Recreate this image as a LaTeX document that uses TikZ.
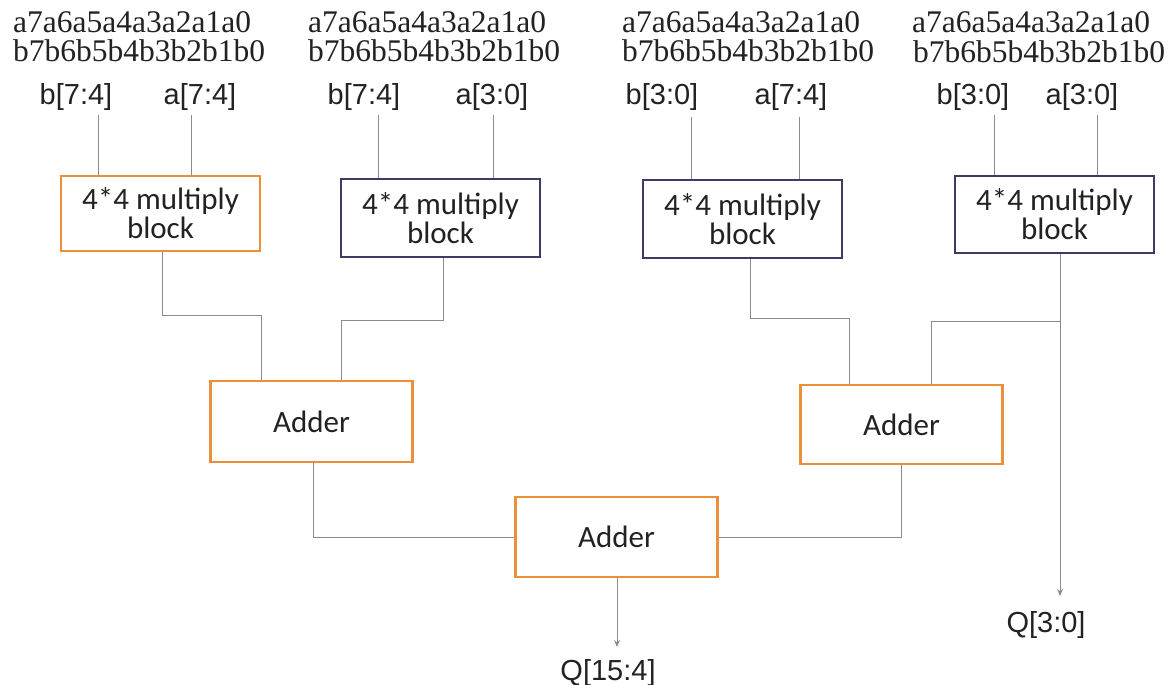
\documentclass[tikz,border=0pt]{standalone}
\usepackage{fontspec}
\setmainfont{Liberation Serif}
\newfontfamily\labelfont{Liberation Sans}
\newfontfamily\boxfont{Carlito}
\usetikzlibrary{arrows.meta}
\definecolor{wiregray}{RGB}{140,140,140}
\definecolor{boxorange}{RGB}{236,142,58}
\definecolor{boxnavy}{RGB}{58,60,100}
\definecolor{inkdark}{RGB}{34,34,34}
\tikzset{
  bits/.style={anchor=base west, inner sep=0pt, text=inkdark, font=\fontsize{31.5}{31.5}\selectfont},
  sig/.style={anchor=base, inner sep=0pt, text=inkdark, font=\labelfont\fontsize{29}{29}\selectfont},
  blockbox/.style={draw, line width=2.4pt, fill=white, align=center, text=inkdark,
    minimum width=199pt, minimum height=77pt, inner sep=0pt,
    font=\boxfont\fontsize{31}{29}\selectfont},
  mulorange/.style={blockbox, draw=boxorange},
  mulnavy/.style={blockbox, draw=boxnavy},
  addbox/.style={blockbox, draw=boxorange, minimum width=202pt, minimum height=80pt},
  wire/.style={draw=wiregray, line width=1pt},
  outarrow/.style={wire, -{Stealth[length=7pt,width=6pt]}}
}
\begin{document}
\begin{tikzpicture}[x=1pt,y=-1pt]
\useasboundingbox (0,0) rectangle (1172,685);

% bit vectors above each multiplier
\node[bits] (va1) at (13,33) {a7a6a5a4a3a2a1a0};
\node[bits] (vb1) at (13,62) {b7b6b5b4b3b2b1b0};
\node[bits] (va2) at (308,33) {a7a6a5a4a3a2a1a0};
\node[bits] (vb2) at (308,62) {b7b6b5b4b3b2b1b0};
\node[bits] (va3) at (622,33) {a7a6a5a4a3a2a1a0};
\node[bits] (vb3) at (622,62) {b7b6b5b4b3b2b1b0};
\node[bits] (va4) at (912,33) {a7a6a5a4a3a2a1a0};
\node[bits] (vb4) at (913,63) {b7b6b5b4b3b2b1b0};

% operand slices
\node[sig] (s1b) at (76,104) {b[7:4]};
\node[sig] (s1a) at (200,104) {a[7:4]};
\node[sig] (s2b) at (364,104) {b[7:4]};
\node[sig] (s2a) at (492,104) {a[3:0]};
\node[sig] (s3b) at (662,104) {b[3:0]};
\node[sig] (s3a) at (791,104) {a[7:4]};
\node[sig] (s4b) at (973,104) {b[3:0]};
\node[sig] (s4a) at (1082,104) {a[3:0]};

% 4x4 multipliers
\node[mulorange, minimum height=75pt] (m1) at (160.5,213.5) {4*4 multiply\\block};
\node[mulnavy, minimum height=78pt] (m2) at (440.5,218) {4*4 multiply\\block};
\node[mulnavy, minimum height=78pt] (m3) at (742.5,219) {4*4 multiply\\block};
\node[mulnavy] (m4) at (1054.5,214.5) {4*4 multiply\\block};

% adders
\node[addbox, minimum height=81pt] (ad1) at (311.5,421.5) {Adder};
\node[addbox, minimum height=79pt] (ad2) at (901.5,424.5) {Adder};
\node[addbox] (ad3) at (616.5,537) {Adder};

% results
\node[sig] (q1) at (608,680) {Q[15:4]};
\node[sig] (q0) at (1046,632) {Q[3:0]};

% operand wires
\coordinate (i1b) at (98,115);   \coordinate (i1a) at (191,115);
\coordinate (i2b) at (378,115);  \coordinate (i2a) at (493,115);
\coordinate (i3b) at (691,117);  \coordinate (i3a) at (799,117);
\coordinate (i4b) at (994,115);  \coordinate (i4a) at (1097,115);
\foreach \p/\m in {i1b/m1,i1a/m1,i2b/m2,i2a/m2,i3b/m3,i3a/m3,i4b/m4,i4a/m4}
  \draw[wire] (\p) -- (\p |- \m.north);

% partial products into the first adder stage
\draw[wire] ([xshift=1.5pt]m1.south) -- ++(0,63) -| ([xshift=-50.5pt]ad1.north);
\draw[wire] ([xshift=2.5pt]m2.south) |- (341,320) -- ([xshift=29.5pt]ad1.north);
\draw[wire] ([xshift=7.5pt]m3.south) |- (849,318) -- ([xshift=-52.5pt]ad2.north);

% low nibble passes straight through to Q[3:0]
\coordinate (tap) at (1060,321);
\coordinate (q0tip) at (1060,596);
\draw[outarrow] ([xshift=5.5pt]m4.south) -- (q0tip);
\draw[wire] (tap) -| ([xshift=29.5pt]ad2.north);

% second adder stage
\draw[wire] ([xshift=1.5pt]ad1.south) |- (ad3.west);
\draw[wire] (ad2.south) |- (ad3.east);

% final sum
\coordinate (q1tip) at (617,647);
\draw[outarrow] ([xshift=0.5pt]ad3.south) -- (q1tip);
\end{tikzpicture}
\end{document}
